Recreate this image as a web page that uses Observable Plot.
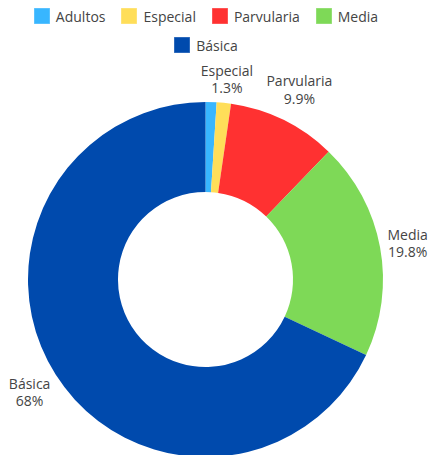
<!DOCTYPE html>
<html>
<head>
<meta charset="utf-8">
<script src="https://cdn.jsdelivr.net/npm/d3@7"></script>
<script src="https://cdn.jsdelivr.net/npm/@observablehq/plot@0.6"></script>
<style>
  html, body { margin: 0; padding: 0; background: #fff; }
  body { width: 428px; height: 455px; overflow: hidden; font-family: "Open Sans", sans-serif; color: #444; }
  #legend { height: 60px; width: 390px; margin-left: 11px; box-sizing: border-box; padding-top: 6px; }
  #legend .lg-swatches-wrap { justify-content: center; row-gap: 9px; min-height: 0; margin: 0; }
  #legend .lg-swatch { margin: 0 8px; height: 20px; font-family: "Open Sans", sans-serif; font-size: 14px; color: #444; }
  #legend .lg-swatch > svg { margin-right: 6px; }
  #legend .lg-swatch rect { stroke: rgba(255,255,255,0.35); stroke-width: 1px; }
  #chart svg { display: block; }
</style>
</head>
<body>
<div id="legend"></div>
<div id="chart"></div>
<script>
const categories = ["Adultos", "Especial", "Parvularia", "Media", "Básica"];
const values = [1.0, 1.3, 9.9, 19.8, 68];
const labels = ["", "1.3%", "9.9%", "19.8%", "68%"];
const colors = ["#38b6ff", "#ffde59", "#ff3131", "#7ed957", "#004aad"];

const data = categories.map((c, i) => ({category: c, value: values[i], label: labels[i]}));
const arcs = d3.pie().sort(null).value(d => d.value)(data);
const slices = arcs.map(a => ({...a.data, startAngle: a.startAngle, endAngle: a.endAngle, mid: (a.startAngle + a.endAngle) / 2}));

const legend = Plot.legend({
  color: {domain: categories, range: colors},
  legend: "swatches",
  swatchSize: 16,
  className: "lg"
});
document.getElementById("legend").appendChild(legend);

// layout
const xRange = [28, 383];
const yRange = [397, 42];
const pxPerUnit = (xRange[1] - xRange[0]) / 2;
const innerRatio = 0.493;
const fontSize = 14;
const lineH = 1.25;
const labelGap = 182; // px from centre to the nearest edge of an outside label

// measure outside label boxes so their nearest edge sits just outside the ring
const ctx = document.createElement("canvas").getContext("2d");
ctx.font = `${fontSize}px "Open Sans"`;
function labelOffset(d) {
  const w = Math.max(ctx.measureText(d.category).width, ctx.measureText(d.label).width);
  const h = fontSize * lineH * 2;
  const s = Math.abs(Math.sin(d.mid)) * w / 2 + Math.abs(Math.cos(d.mid)) * h / 2;
  return (labelGap + s) / pxPerUnit;
}

function donut(index, scales) {
  const cx = scales.x(0), cy = scales.y(0);
  const r = Math.abs(scales.x(1) - scales.x(0));
  const arc = d3.arc().innerRadius(r * innerRatio).outerRadius(r);
  const g = d3.create("svg:g").attr("transform", `translate(${cx},${cy})`);
  g.selectAll("path")
    .data(slices)
    .join("path")
    .attr("d", d => arc(d))
    .attr("fill", d => scales.color(d.category));
  return g.node();
}

const labelData = slices.filter(d => d.label !== "");

const plot = Plot.plot({
  width: 428,
  height: 440,
  margin: 0,
  x: {domain: [-1, 1], range: xRange, axis: null},
  y: {domain: [-1, 1], range: yRange, axis: null},
  color: {domain: categories, range: colors},
  style: {fontFamily: "Open Sans, sans-serif", fontSize: "14px", color: "#444", background: "transparent", overflow: "visible"},
  marks: [
    Plot.dot(slices, {x: () => 0, y: () => 0, fill: "category", r: 0}),
    donut,
    Plot.text(labelData, {
      x: d => labelOffset(d) * Math.sin(d.mid),
      y: d => labelOffset(d) * Math.cos(d.mid),
      text: d => `${d.category}\n${d.label}`,
      textAnchor: "middle",
      lineAnchor: "middle",
      lineHeight: lineH,
      fontSize: fontSize,
      fill: "#444"
    })
  ]
});
document.getElementById("chart").appendChild(plot);
</script>
</body>
</html>
